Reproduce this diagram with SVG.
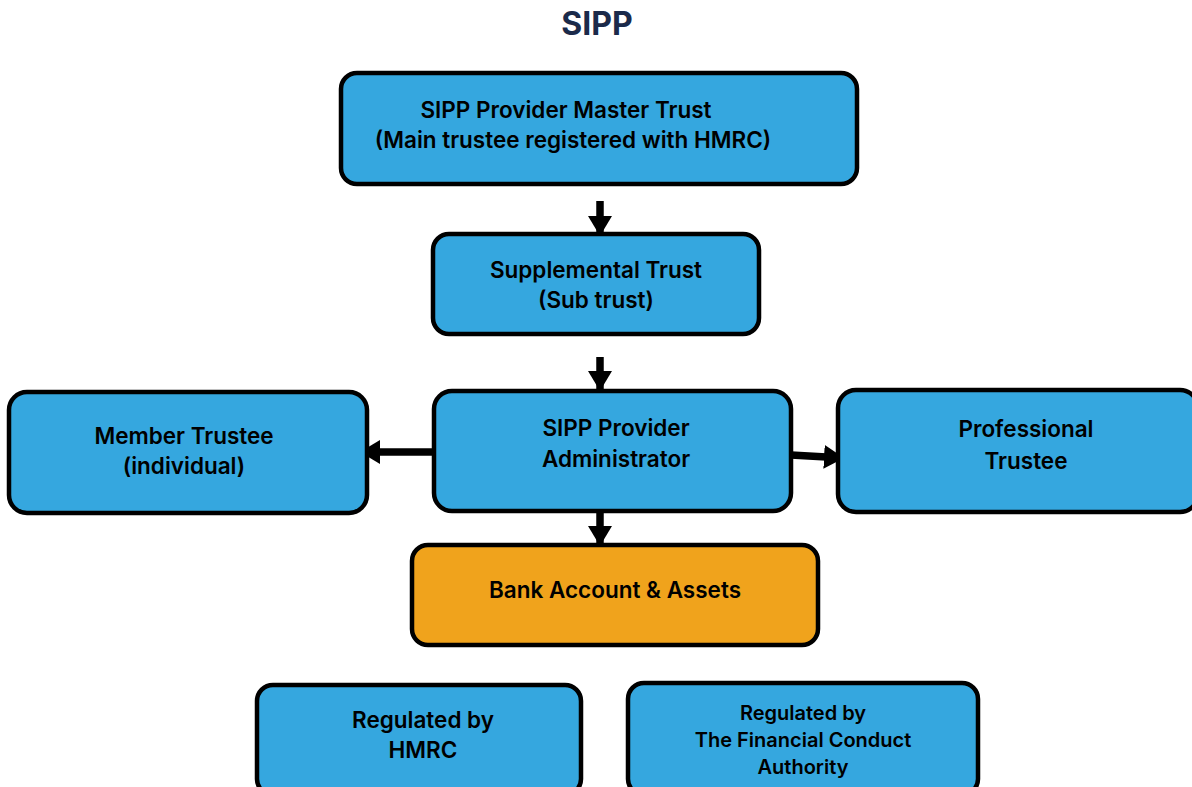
<svg xmlns="http://www.w3.org/2000/svg" width="1192" height="787" viewBox="0 0 1192 787">
<defs>
<style>
.box{fill:#35A7DF;stroke:#000;stroke-width:4.5}
.bank{fill:#F0A31C;stroke:#000;stroke-width:4.5}
.t{font-family:Inter,"Noto Sans","Liberation Sans",sans-serif;font-weight:600;font-size:22.5px;fill:#000;text-anchor:middle}
.s{font-size:20px}
.title{font-family:Inter,"Noto Sans","Liberation Sans",sans-serif;font-weight:700;font-size:32px;fill:#1B2A4A;text-anchor:middle}
.c{stroke:#000;stroke-width:7.5;fill:none}
</style>
<marker id="ah" markerUnits="userSpaceOnUse" markerWidth="24" markerHeight="24" refX="20" refY="12" orient="auto">
<path d="M0,0 L20,12 L0,24 Z" fill="#000"/>
</marker>
</defs>
<rect width="1192" height="787" fill="#fff"/>
<text class="title" x="597" y="35">SIPP</text>

<g id="connectors">
<line class="c" x1="600" y1="201" x2="600" y2="236" marker-end="url(#ah)"/>
<line class="c" x1="600" y1="357" x2="600" y2="391" marker-end="url(#ah)"/>
<line class="c" x1="433" y1="452" x2="360" y2="452" marker-end="url(#ah)"/>
<line class="c" x1="791" y1="455" x2="844" y2="458" marker-end="url(#ah)"/>
<line class="c" x1="600" y1="512" x2="600" y2="546" marker-end="url(#ah)"/>
</g>

<g id="master">
<rect class="box" x="341" y="73" width="516" height="111" rx="16"/>
<text class="t" x="566" y="118">SIPP Provider Master Trust</text>
<text class="t" x="573" y="148">(Main trustee registered with HMRC)</text>
</g>
<g id="supplemental">
<rect class="box" x="433" y="234" width="326" height="100" rx="16"/>
<text class="t" x="596" y="278">Supplemental Trust</text>
<text class="t" x="596" y="308">(Sub trust)</text>
</g>
<g id="admin">
<rect class="box" x="434" y="391" width="357" height="120" rx="18"/>
<text class="t" x="616" y="436">SIPP Provider</text>
<text class="t" x="616" y="467">Administrator</text>
</g>
<g id="member">
<rect class="box" x="9" y="392" width="358" height="121" rx="18"/>
<text class="t" x="184" y="444">Member Trustee</text>
<text class="t" x="184" y="474">(individual)</text>
</g>
<g id="professional">
<rect class="box" x="838" y="390" width="360" height="122" rx="18"/>
<text class="t" x="1026" y="437">Professional</text>
<text class="t" x="1026" y="469">Trustee</text>
</g>
<g id="bank">
<rect class="bank" x="412" y="545" width="406" height="100" rx="16"/>
<text class="t" x="615" y="598">Bank Account &amp; Assets</text>
</g>
<g id="hmrc">
<rect class="box" x="257" y="685" width="324" height="110" rx="16"/>
<text class="t" x="423" y="728">Regulated by</text>
<text class="t" x="423" y="758">HMRC</text>
</g>
<g id="fca">
<rect class="box" x="628" y="683" width="350" height="112" rx="16"/>
<text class="t s" x="803" y="720">Regulated by</text>
<text class="t s" x="803" y="747">The Financial Conduct</text>
<text class="t s" x="803" y="774">Authority</text>
</g>
</svg>
